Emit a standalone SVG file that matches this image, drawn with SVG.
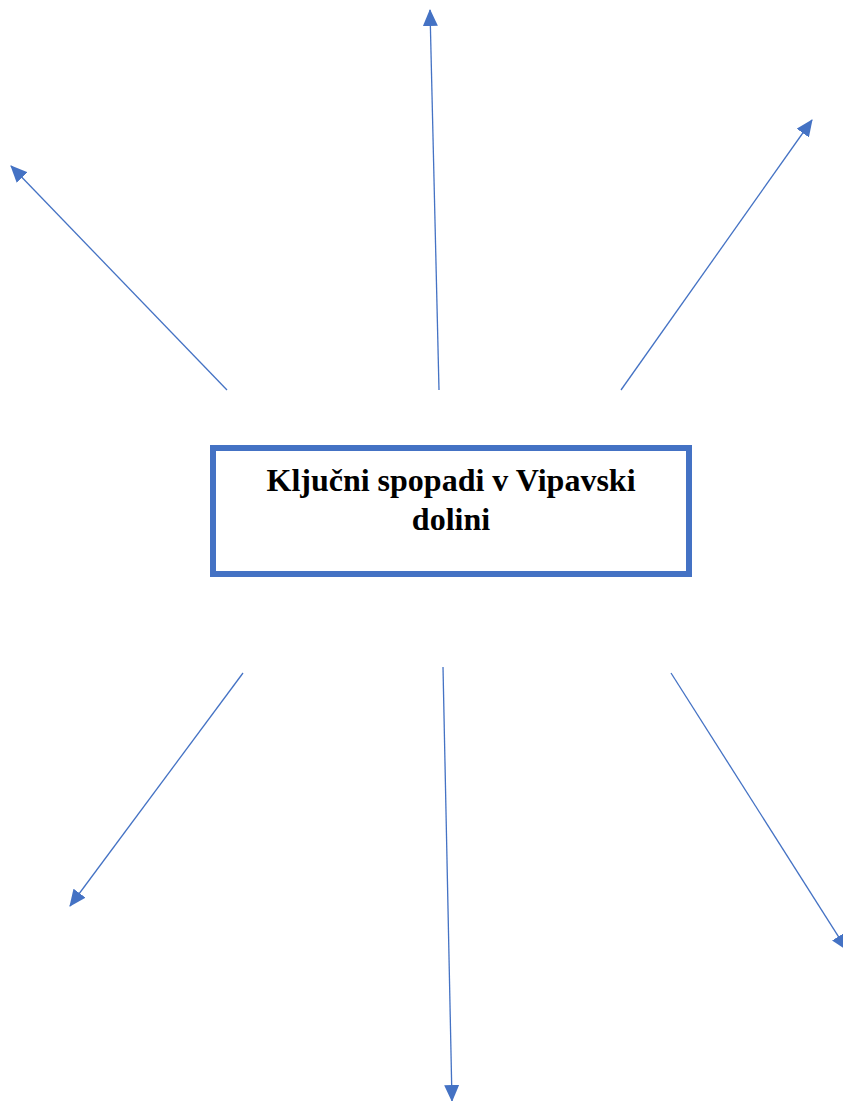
<svg xmlns="http://www.w3.org/2000/svg" width="843" height="1101" viewBox="0 0 843 1101">
<defs>
<marker id="arr" markerUnits="userSpaceOnUse" markerWidth="17" markerHeight="15" refX="16" refY="7.5" orient="auto">
<path d="M0,0 L17,7.5 L0,15 Z" fill="#4472C4"/>
</marker>
<style>
.c{stroke:#4472C4;stroke-width:1.3;fill:none;marker-end:url(#arr)}
.t{font-family:"Liberation Serif","Times New Roman",serif;font-weight:bold;font-size:32px;fill:#000;text-anchor:middle}
</style>
</defs>
<rect width="843" height="1101" fill="#fff"/>
<g id="connectors">
<line class="c" x1="227" y1="390" x2="11" y2="166"/>
<line class="c" x1="439" y1="390" x2="430" y2="10"/>
<line class="c" x1="621" y1="390" x2="812" y2="120"/>
<line class="c" x1="243" y1="673" x2="70" y2="906"/>
<line class="c" x1="443" y1="667" x2="452" y2="1101"/>
<line class="c" x1="671" y1="673" x2="847" y2="950"/>
</g>
<g id="center">
<rect x="213" y="448" width="476" height="126" fill="#fff" stroke="#4472C4" stroke-width="6"/>
<text class="t" x="451" y="491">Ključni spopadi v Vipavski</text>
<text class="t" x="451" y="530">dolini</text>
</g>
</svg>
